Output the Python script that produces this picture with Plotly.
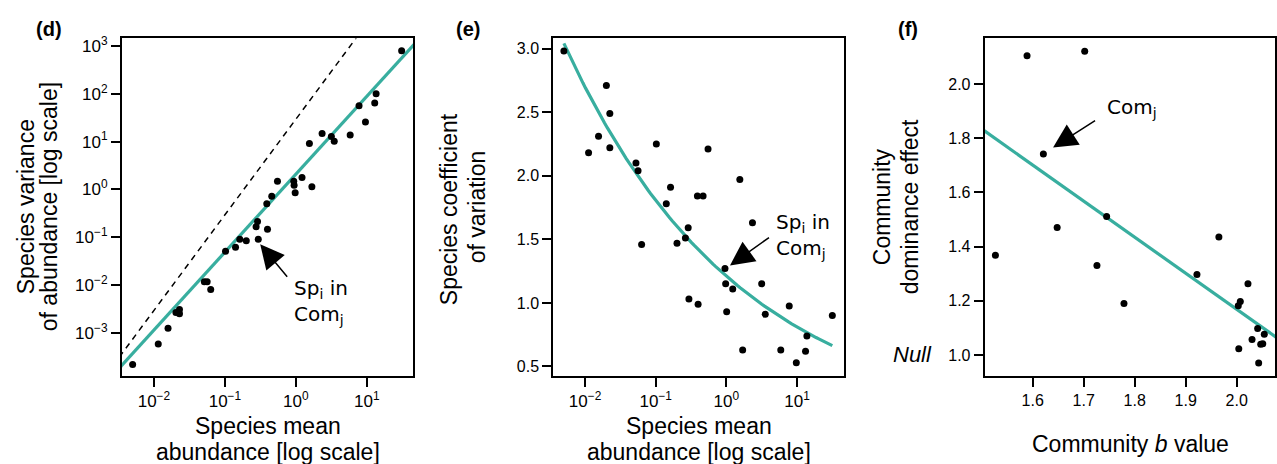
import numpy as np
import plotly.graph_objects as go

# ---------------- data ----------------
# Panel (d): species mean abundance vs variance
d_mean = [30.9, 13.5, 12.9, 9.55, 7.76, 5.82, 3.47, 3.16, 2.34, 1.55, 1.22, 1.68,
          0.933, 0.944, 0.977, 0.550, 0.457, 0.389, 0.288, 0.275, 0.398, 0.295,
          0.200, 0.162, 0.141, 0.102, 0.0513, 0.0562, 0.0631, 0.0229, 0.0204,
          0.0229, 0.0158, 0.0115, 0.00501]
d_var = [794, 100, 64.6, 25.7, 56.2, 13.8, 10.2, 12.9, 14.8, 9.12, 1.78, 1.14,
         1.48, 1.23, 0.851, 1.48, 0.724, 0.501, 0.214, 0.166, 0.148, 0.0912,
         0.0851, 0.0912, 0.0617, 0.0513, 0.0117, 0.0117, 0.00813, 0.00309, 0.00269,
         0.00251, 0.00126, 0.000589, 0.000219]
d_fit_intercept, d_fit_slope = 0.32, 1.63      # log10(var) = a + b log10(mean)
d_ref_intercept, d_ref_slope = 1.47, 2.0       # dashed reference line

# Panel (e): species mean abundance vs coefficient of variation
e_mean = [0.00501, 0.0200, 0.0224, 0.0155, 0.0112, 0.0224, 0.102, 0.550, 0.0525,
          0.0562, 0.162, 0.141, 0.389, 0.468, 1.55, 2.34, 0.288, 0.200, 0.263,
          0.0631, 0.955, 0.977, 1.23, 3.16, 0.295, 0.398, 1.01, 3.55, 7.76, 31.6,
          13.8, 1.70, 5.89, 13.2, 9.77]
e_cv = [2.98, 2.71, 2.49, 2.31, 2.18, 2.22, 2.25, 2.21, 2.10, 2.04, 1.91, 1.78,
        1.84, 1.84, 1.97, 1.63, 1.59, 1.47, 1.51, 1.46, 1.27, 1.15, 1.11, 1.15,
        1.03, 0.99, 0.93, 0.91, 0.975, 0.90, 0.74, 0.63, 0.63, 0.62, 0.53]
e_fit_coef, e_fit_exp = 1.21, -0.174           # CV = c * mean^k

# Panel (f): community b value vs dominance effect
f_b = [1.589, 1.702, 1.621, 1.648, 1.745, 1.965, 1.527, 1.726, 1.779, 1.922,
       2.022, 2.007, 2.003, 2.041, 2.054, 2.030, 2.047, 2.051, 2.004, 2.043]
f_dom = [2.104, 2.121, 1.741, 1.470, 1.511, 1.435, 1.368, 1.330, 1.190, 1.297,
         1.263, 1.197, 1.181, 1.097, 1.076, 1.057, 1.039, 1.041, 1.023, 0.970]
f_fit_intercept, f_fit_slope = 3.832, -1.332

log_tickvals = [-3, -2, -1, 0, 1, 2, 3]
log_ticktext = ["10<sup>−3</sup>", "10<sup>−2</sup>", "10<sup>−1</sup>", "10<sup>0</sup>",
                "10<sup>1</sup>", "10<sup>2</sup>", "10<sup>3</sup>"]
e_yticks = [0.5, 1.0, 1.5, 2.0, 2.5, 3.0]
f_xticks = [1.6, 1.7, 1.8, 1.9, 2.0]
f_yticks = [1.0, 1.2, 1.4, 1.6, 1.8, 2.0]

# ---------------- styling ----------------
W, H = 1277, 464
TEAL = "#38ae9f"
TICKFONT = dict(family="Liberation Sans, Arial, sans-serif", size=16, color="black")
LOGTICKFONT = dict(family="Liberation Sans, Arial, sans-serif", size=17, color="black")
TITLEFONT = dict(family="Liberation Sans, Arial, sans-serif", size=23, color="black")
ANNFONT = dict(family="DejaVu Sans, sans-serif", size=20, color="black")

d_xr = [-2.45, 1.65]
d_yr = [-3.896, 3.16]
e_xr = [-2.45, 1.665]
e_yr = [0.427, 3.08]
f_xr = [1.506, 2.075]
f_yr = [0.923, 2.168]

def xp(px):
    return px / W

def yp(py):
    return 1 - py / H

ydom = [yp(375), yp(34.7)]

fig = go.Figure()

# panel d
lx = np.linspace(d_xr[0] - 0.5, d_xr[1] + 0.5, 50)
fig.add_trace(go.Scatter(x=10 ** lx, y=10 ** (d_ref_intercept + d_ref_slope * lx), mode="lines",
                         line=dict(color="black", width=1.5, dash="6px,5px"),
                         xaxis="x", yaxis="y", showlegend=False))
fig.add_trace(go.Scatter(x=10 ** lx, y=10 ** (d_fit_intercept + d_fit_slope * lx), mode="lines",
                         line=dict(color=TEAL, width=3.2), xaxis="x", yaxis="y", showlegend=False))
fig.add_trace(go.Scatter(x=d_mean, y=d_var, mode="markers",
                         marker=dict(color="black", size=7), xaxis="x", yaxis="y", showlegend=False))

# panel e
ex = np.logspace(np.log10(min(e_mean)), np.log10(max(e_mean)), 100)
fig.add_trace(go.Scatter(x=ex, y=e_fit_coef * ex ** e_fit_exp, mode="lines",
                         line=dict(color=TEAL, width=3.2), xaxis="x2", yaxis="y2", showlegend=False))
fig.add_trace(go.Scatter(x=e_mean, y=e_cv, mode="markers",
                         marker=dict(color="black", size=7), xaxis="x2", yaxis="y2", showlegend=False))

# panel f
fx = np.linspace(f_xr[0] - 0.1, f_xr[1] + 0.1, 20)
fig.add_trace(go.Scatter(x=fx, y=f_fit_intercept + f_fit_slope * fx, mode="lines",
                         line=dict(color=TEAL, width=3.2), xaxis="x3", yaxis="y3", showlegend=False))
fig.add_trace(go.Scatter(x=f_b, y=f_dom, mode="markers",
                         marker=dict(color="black", size=7), xaxis="x3", yaxis="y3", showlegend=False))

axis_common = dict(showline=True, mirror=True, linecolor="black", linewidth=2,
                   ticks="outside", ticklen=9, tickwidth=1.5, tickcolor="black",
                   showgrid=False, zeroline=False)

fig.update_layout(
    width=W, height=H, margin=dict(l=0, r=0, t=0, b=0),
    paper_bgcolor="white", plot_bgcolor="white",
    xaxis=dict(domain=[xp(122), xp(413)], type="log", range=d_xr, anchor="y", tickfont=LOGTICKFONT,
               tickvals=[10 ** v for v in log_tickvals], ticktext=log_ticktext, **axis_common),
    yaxis=dict(domain=ydom, type="log", range=d_yr, anchor="x", tickfont=LOGTICKFONT,
               tickvals=[10 ** v for v in log_tickvals], ticktext=log_ticktext, **axis_common),
    xaxis2=dict(domain=[xp(553.3), xp(844)], type="log", range=e_xr, anchor="y2", tickfont=LOGTICKFONT,
                tickvals=[10 ** v for v in log_tickvals], ticktext=log_ticktext, **axis_common),
    yaxis2=dict(domain=ydom, range=e_yr, anchor="x2", tickvals=e_yticks, tickfont=TICKFONT,
                ticktext=[f"{v:.1f}" for v in e_yticks], **axis_common),
    xaxis3=dict(domain=[xp(984.7), xp(1275)], range=f_xr, anchor="y3", tickvals=f_xticks,
                tickfont=TICKFONT, ticktext=[f"{v:.1f}" for v in f_xticks], **axis_common),
    yaxis3=dict(domain=ydom, range=f_yr, anchor="x3", tickvals=f_yticks, tickfont=TICKFONT,
                ticktext=[f"{v:.1f}" for v in f_yticks], **axis_common),
)

ann = []

def text_ann(px, py, text, font, angle=0, xanchor="center"):
    ann.append(dict(x=xp(px), y=yp(py), xref="paper", yref="paper", text=text,
                    showarrow=False, font=font, textangle=angle,
                    xanchor=xanchor, yanchor="middle"))

# panel labels
bold = dict(family="Liberation Sans, Arial, sans-serif", size=20, color="black")
text_ann(49, 25, "<b>(d)</b>", bold)
text_ann(467.5, 25, "<b>(e)</b>", bold)
text_ann(908, 25, "<b>(f)</b>", bold)

# axis titles
text_ann(26, 205, "Species variance", TITLEFONT, -90)
text_ann(49, 205, "of abundance [log scale]", TITLEFONT, -90)
text_ann(267.5, 426, "Species mean", TITLEFONT)
text_ann(267.5, 452, "abundance [log scale]", TITLEFONT)

text_ann(449, 207, "Species coefficient", TITLEFONT, -90)
text_ann(477, 205, "of variation", TITLEFONT, -90)
text_ann(698.5, 426, "Species mean", TITLEFONT)
text_ann(698.5, 452, "abundance [log scale]", TITLEFONT)

text_ann(882, 205, "Community", TITLEFONT, -90)
text_ann(910, 205, "dominance effect", TITLEFONT, -90)
text_ann(1130, 444, "Community <i>b</i> value", TITLEFONT)
text_ann(912, 354, "<i>Null</i>", dict(family="Liberation Sans, Arial, sans-serif", size=22, color="black"))

# callouts
def arrow(xref, yref, x, y, ax, ay):
    ann.append(dict(x=x, y=y, xref=xref, yref=yref, text=" ", showarrow=True,
                    ax=ax, ay=ay, arrowhead=2, arrowsize=3.2, arrowwidth=1.5,
                    arrowcolor="black", standoff=0, startstandoff=0))

def label(xref, yref, x, y, text):
    ann.append(dict(x=x, y=y, xref=xref, yref=yref, text=text, showarrow=False,
                    font=ANNFONT, xanchor="left", yanchor="middle", align="left"))

arrow("x", "y", -0.503, -1.146, 30, 36)
label("x", "y", -0.056, -2.35, "Sp<sub>i</sub> in<br>Com<sub>j</sub>")

arrow("x2", "y2", 0.051, 1.295, 42, -30)
label("x2", "y2", 0.673, 1.529, "Sp<sub>i</sub> in<br>Com<sub>j</sub>")

arrow("x3", "y3", 1.640, 1.765, 45, -29)
label("x3", "y3", 1.742, 1.911, "Com<sub>j</sub>")

fig.update_layout(annotations=ann)
fig.write_html("out.html", config={"displayModeBar": False},
               post_script="document.body.style.margin='0px';")
